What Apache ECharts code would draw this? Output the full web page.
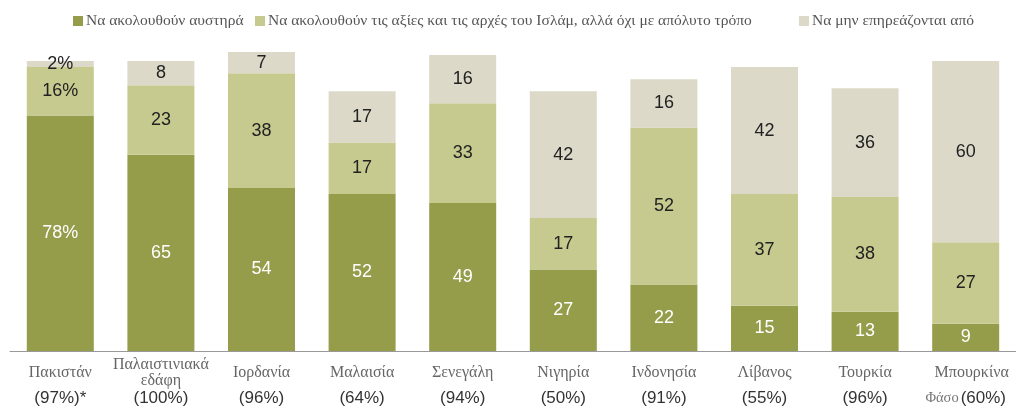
<!DOCTYPE html>
<html>
<head>
<meta charset="utf-8">
<script src="https://cdn.jsdelivr.net/npm/echarts@6/dist/echarts.min.js"></script>
<style>
html,body{margin:0;padding:0;background:#fff;}
#c{width:1016px;height:408px;}
</style>
</head>
<body>
<div id="c"></div>
<script>
const categories = ['Πακιστάν', 'Παλαιστινιακά\nεδάφη', 'Ιορδανία', 'Μαλαισία', 'Σενεγάλη', 'Νιγηρία', 'Ινδονησία', 'Λίβανος', 'Τουρκία', 'Μπουρκίνα'];
const shares = ['(97%)*', '(100%)', '(96%)', '(64%)', '(94%)', '(50%)', '(91%)', '(55%)', '(96%)', '(60%)'];
const seriesNames = ['Να ακολουθούν αυστηρά', 'Να ακολουθούν τις αξίες και τις αρχές του Ισλάμ, αλλά όχι με απόλυτο τρόπο', 'Να μην επηρεάζονται από'];
const strictly = [78, 65, 54, 52, 49, 27, 22, 15, 13, 9];
const values = [16, 23, 38, 17, 33, 17, 52, 37, 38, 27];
const notInfluenced = [2, 8, 7, 17, 16, 42, 16, 42, 36, 60];

const colors = ['#959c4a', '#c6ca8f', '#dcd9c9'];
const serif = 'Liberation Serif';
const sans = 'Liberation Sans';

const chart = echarts.init(document.getElementById('c'), null, {renderer: 'canvas'});

function fmt(p) { return p.dataIndex === 0 ? p.value + '%' : String(p.value); }

const legendBase = {
  top: 8, itemWidth: 10, itemHeight: 10, icon: 'rect', itemGap: 4,
  textStyle: {fontFamily: serif, fontSize: 15.5, color: '#555', padding: [0, 0, 0, -2]},
  selectedMode: false
};

const option = {
  animation: false,
  color: colors,
  legend: [
    Object.assign({}, legendBase, {left: 68, data: [seriesNames[0]]}),
    Object.assign({}, legendBase, {left: 250, data: [seriesNames[1]]}),
    Object.assign({}, legendBase, {left: 794, data: [seriesNames[2]]})
  ],
  grid: {left: 10, right: -3, top: 49, bottom: 57},
  xAxis: [
    {
      type: 'category', data: categories, position: 'bottom',
      axisLine: {show: true, lineStyle: {color: '#999', width: 1}},
      axisTick: {show: false},
      axisLabel: {interval: 0, margin: 22, verticalAlign: 'middle',
        formatter: function (v, i) {
          if (i === 9) return '{b|' + v + '}';
          return v.split('\n').map(function (s) { return '{a|' + s + '}'; }).join('\n');
        },
        rich: {
          a: {fontFamily: serif, fontSize: 16, color: '#666', lineHeight: 16},
          b: {fontFamily: serif, fontSize: 16, color: '#666', lineHeight: 16, padding: [0, 0, 0, 12]}
        }
      }
    },
    {
      type: 'category', data: shares, position: 'bottom',
      axisLine: {show: false}, axisTick: {show: false},
      axisLabel: {interval: 0, margin: 47, verticalAlign: 'middle',
        formatter: function (v, i) {
          if (i === 9) return '{s|Φάσο}{p|' + v + '}';
          return '{p|' + v + '}';
        },
        rich: {
          p: {fontFamily: sans, fontSize: 17, color: '#333'},
          s: {fontFamily: serif, fontSize: 14.5, color: '#777', padding: [0, 2, 0, 0]}
        }
      }
    }
  ],
  yAxis: {type: 'value', min: 0, max: 100, show: false, splitLine: {show: false}},
  series: [
    {name: seriesNames[0], type: 'bar', stack: 't', data: strictly, barWidth: 67,
      itemStyle: {color: colors[0]},
      label: {show: true, position: 'inside', color: '#fff', fontFamily: sans, fontSize: 18, formatter: fmt}},
    {name: seriesNames[1], type: 'bar', stack: 't', data: values, barWidth: 67,
      itemStyle: {color: colors[1]},
      label: {show: true, position: 'inside', color: '#222', fontFamily: sans, fontSize: 18, formatter: fmt}},
    {name: seriesNames[2], type: 'bar', stack: 't', data: notInfluenced, barWidth: 67,
      itemStyle: {color: colors[2]},
      label: {show: true, position: 'inside', color: '#222', fontFamily: sans, fontSize: 18, formatter: fmt}}
  ]
};
chart.setOption(option);
</script>
</body>
</html>
